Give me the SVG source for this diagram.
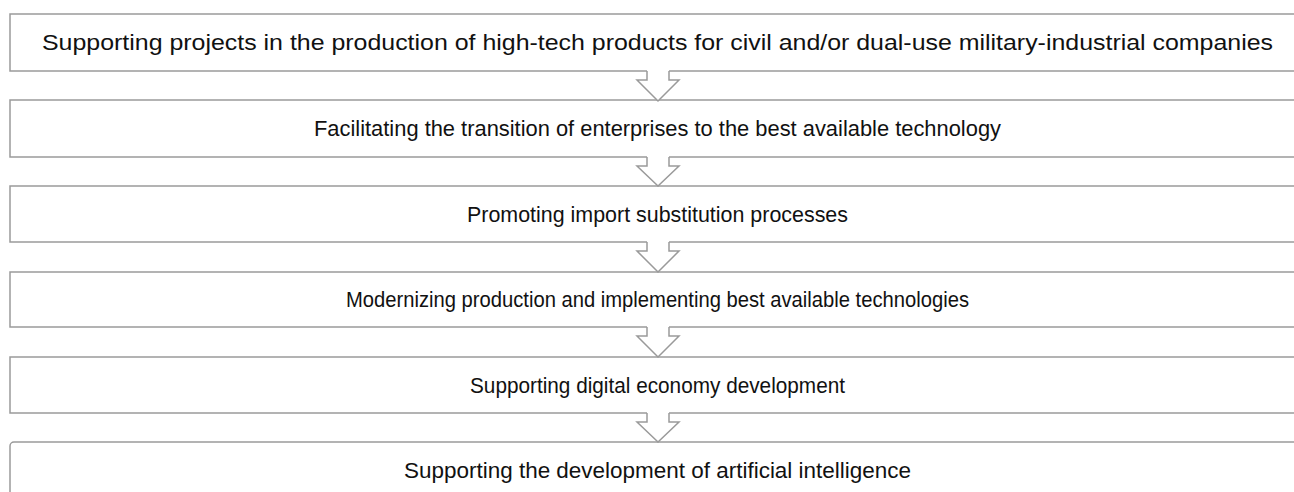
<svg xmlns="http://www.w3.org/2000/svg" width="1294" height="492" viewBox="0 0 1294 492">
<style>
.box{fill:#ffffff;stroke:#9a9a9a;stroke-width:1.5}
.lbl{font-family:"Liberation Sans","Noto Sans",sans-serif;font-size:22px;fill:#111111;text-anchor:middle}
.arw{fill:#ffffff;stroke:none}
.arl{fill:none;stroke:#9a9a9a;stroke-width:1.5;stroke-linejoin:miter}
</style>
<rect width="1294" height="492" fill="#ffffff"/>
<g id="n1"><rect class="box" x="10" y="14" width="1300" height="57"/><text class="lbl" x="657.5" y="50" textLength="1231" lengthAdjust="spacingAndGlyphs">Supporting projects in the production of high-tech products for civil and/or dual-use military-industrial companies</text></g>
<g id="n2"><rect class="box" x="10" y="100" width="1300" height="57"/><text class="lbl" x="657.5" y="136" textLength="687" lengthAdjust="spacingAndGlyphs">Facilitating the transition of enterprises to the best available technology</text></g>
<g id="n3"><rect class="box" x="10" y="186" width="1300" height="56"/><text class="lbl" x="657.5" y="222" textLength="381" lengthAdjust="spacingAndGlyphs">Promoting import substitution processes</text></g>
<g id="n4"><rect class="box" x="10" y="272" width="1300" height="55"/><text class="lbl" x="657.5" y="307" textLength="623" lengthAdjust="spacingAndGlyphs">Modernizing production and implementing best available technologies</text></g>
<g id="n5"><rect class="box" x="10" y="357" width="1300" height="56"/><text class="lbl" x="657.5" y="393" textLength="375" lengthAdjust="spacingAndGlyphs">Supporting digital economy development</text></g>
<g id="n6"><rect class="box" x="10" y="442" width="1300" height="70" rx="4"/><text class="lbl" x="657.5" y="478" textLength="507" lengthAdjust="spacingAndGlyphs">Supporting the development of artificial intelligence</text></g>
<g id="connectors">
<g transform="translate(0,71)"><polygon class="arw" points="647,-2 669,-2 669,9 679,9 658,30 637,9 647,9"/><polyline class="arl" points="647,0 647,9 637,9 658,30 679,9 669,9 669,0"/></g>
<g transform="translate(0,157)"><polygon class="arw" points="647,-2 669,-2 669,9 679,9 658,29 637,9 647,9"/><polyline class="arl" points="647,0 647,9 637,9 658,29 679,9 669,9 669,0"/></g>
<g transform="translate(0,242)"><polygon class="arw" points="647,-2 669,-2 669,9 679,9 658,30 637,9 647,9"/><polyline class="arl" points="647,0 647,9 637,9 658,30 679,9 669,9 669,0"/></g>
<g transform="translate(0,327)"><polygon class="arw" points="647,-2 669,-2 669,9 679,9 658,30 637,9 647,9"/><polyline class="arl" points="647,0 647,9 637,9 658,30 679,9 669,9 669,0"/></g>
<g transform="translate(0,413)"><polygon class="arw" points="647,-2 669,-2 669,9 679,9 658,29 637,9 647,9"/><polyline class="arl" points="647,0 647,9 637,9 658,29 679,9 669,9 669,0"/></g>
</g>
</svg>
